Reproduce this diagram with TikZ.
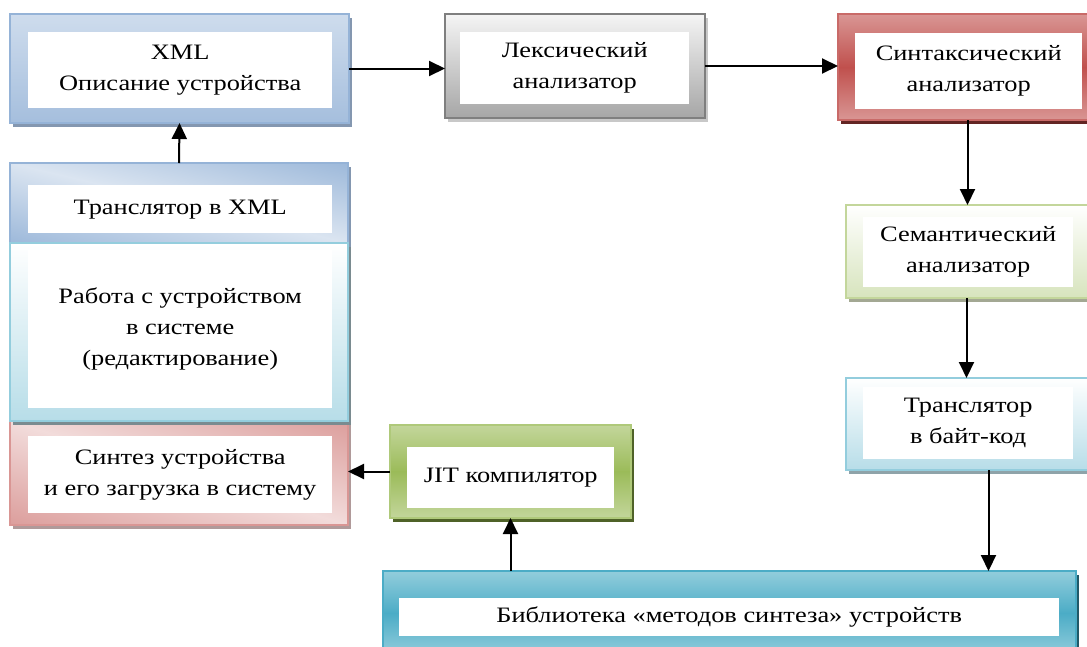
\documentclass[tikz,border=0pt]{standalone}
\usepackage{fontspec}
\setmainfont{Liberation Serif}[FakeStretch=1.2]
\usetikzlibrary{arrows.meta,shadows,calc}

\definecolor{blueD}{HTML}{95B3D7}
\definecolor{blueL}{HTML}{DBE5F1}
\definecolor{blueM}{HTML}{B9CDE5}
\definecolor{blueS}{HTML}{8497B0}
\definecolor{grayD}{HTML}{7F7F7F}
\definecolor{grayM}{HTML}{A6A6A6}
\definecolor{grayS}{HTML}{C8C8C8}
\definecolor{redD}{HTML}{C0504D}
\definecolor{redL}{HTML}{D99694}
\definecolor{redS}{HTML}{632523}
\definecolor{pinkL}{HTML}{F2DCDB}
\definecolor{pinkS}{HTML}{B09A9A}
\definecolor{greenD}{HTML}{9BBB59}
\definecolor{greenL}{HTML}{C3D69B}
\definecolor{greenP}{HTML}{D7E4BD}
\definecolor{greenS}{HTML}{4F6228}
\definecolor{greenG}{HTML}{A3A893}
\definecolor{aquaD}{HTML}{4BACC6}
\definecolor{aquaL}{HTML}{92CDDC}
\definecolor{aquaP}{HTML}{B7DDE8}
\definecolor{aquaS}{HTML}{215968}
\definecolor{aquaB}{HTML}{93CDDD}
\definecolor{aquaG}{HTML}{8FA3A9}

% three-colour vertical frame shading built from two two-colour shadings
% #1 node name, #2 edge colour, #3 middle colour, #4 border colour
\newcommand\triShade[4]{%
  \shade[top color=#2, bottom color=#3] (#1.north west) rectangle ([yshift=-0.3pt]#1.east);
  \shade[top color=#3, bottom color=#2] (#1.west) rectangle (#1.south east);
  \draw[#4, line width=1.2pt] (#1.north west) rectangle (#1.south east);
}
% diagonal frame shading: #1 node, #2 angle, #3 half extent, #4 dark, #5 light
\newcommand\diagShade[5]{%
  \begin{scope}
    \clip (#1.north west) rectangle (#1.south east);
    \begin{scope}[transform canvas={shift={(#1.center)}, rotate=#2}]
      \shade[top color=#4, bottom color=#5] (-420,-0.5) rectangle (420,#3);
      \shade[top color=#5, bottom color=#4] (-420,-#3) rectangle (420,0.5);
    \end{scope}
  \end{scope}
}

\begin{document}
\begin{tikzpicture}[x=1pt,y=1pt,
 frm/.style={draw, line width=1.2pt, anchor=north west, inner sep=0pt, outer sep=0pt},
 sh/.style={drop shadow={shadow xshift=3pt, shadow yshift=-4pt, fill=#1, opacity=1}},
 wht/.style={fill=white, anchor=north west, inner sep=0pt, align=center,
   font=\fontsize{22}{31}\selectfont},
 arr/.style={line width=2pt, -{Triangle[length=16pt,width=15pt]}},
]
\useasboundingbox (0,0) rectangle (1087,-646);

% top row
\node[frm, sh=blueS, draw=blueD, top color=blueM!70!white, bottom color=blueD!85!white,
  minimum width=339pt, minimum height=109pt] (xml) at (10,-14) {};
\node[wht, minimum width=304pt, minimum height=76pt] (xmlt) at (28,-32) {XML\\Описание устройства};

\node[frm, sh=grayS, draw=grayD, top color=white!92!gray, bottom color=grayM,
  minimum width=260pt, minimum height=104pt] (lex) at (445,-14) {};
\node[wht, minimum width=229pt, minimum height=72pt] (lext) at (460,-32) {Лексический\\анализатор};

\node[frm, sh=redS, draw=redD, fill=redL,
  minimum width=257pt, minimum height=106pt] (syn) at (838,-14) {};
\triShade{syn}{redL}{redD}{redD!85!white}
\node[wht, minimum width=227pt, minimum height=76pt] (synt) at (855,-33) {Синтаксический\\анализатор};

% right column
\node[frm, sh=greenG, draw=greenL, top color=white, bottom color=greenP,
  minimum width=249pt, minimum height=93pt] (sem) at (846,-205) {};
\node[wht, minimum width=210pt, minimum height=70pt] (semt) at (863,-217) {Семантический\\анализатор};

\node[frm, sh=aquaG, draw=aquaB, top color=white, bottom color=aquaP,
  minimum width=249pt, minimum height=92pt] (byte) at (846,-378) {};
\node[wht, minimum width=210pt, minimum height=72pt] (bytet) at (863,-387) {Транслятор\\в байт-код};

% library
\node[frm, sh=aquaS, draw=aquaD, fill=aquaL,
  minimum width=693pt, minimum height=84pt] (lib) at (383,-571) {};
\triShade{lib}{aquaL}{aquaD}{aquaD}
\node[wht, minimum width=660pt, minimum height=38pt] (libt) at (399,-598) {Библиотека «методов синтеза» устройств};

% JIT
\node[frm, sh=greenS, draw=greenD, fill=greenL,
  minimum width=241pt, minimum height=93pt] (jit) at (390,-425) {};
\triShade{jit}{greenL}{greenD}{greenD!80!white}
\node[wht, minimum width=207pt, minimum height=61pt] (jitt) at (407,-447) {JIT компилятор};

% left column: synthesis box with diagonal shading
\node[frm, sh=pinkS, draw=redL, fill=redL,
  minimum width=338pt, minimum height=104pt] (sint) at (10,-421) {};
\diagShade{sint}{-17.1}{112}{redL}{pinkL}
\draw[redL, line width=1.2pt] (sint.north west) rectangle (sint.south east);
\node[wht, minimum width=304pt, minimum height=77pt] (sintt) at (28,-436) {Синтез устройства\\и его загрузка в систему};

% translator to XML with diagonal shading
\node[frm, sh=blueS, draw=blueD, fill=blueD,
  minimum width=338pt, minimum height=80pt] (trx) at (10,-163) {};
\diagShade{trx}{-13.3}{88}{blueD}{blueL}
\draw[blueD, line width=1.2pt] (trx.north west) rectangle (trx.south east);
\node[wht, minimum width=304pt, minimum height=48pt] (trxt) at (28,-185) {Транслятор в XML};

\node[frm, sh=aquaG!85!black, draw=aquaB, top color=white, bottom color=aquaP,
  minimum width=338pt, minimum height=178pt] (work) at (10,-243) {};
\node[wht, minimum width=304pt, minimum height=158pt] (workt) at (28,-250) {Работа с устройством\\в системе\\(редактирование)};

% connectors
\draw[arr] (xml.east) -- (xml.east -| lex.west);
\draw[arr] (lex.east) -- (lex.east -| syn.west);
\draw[arr] ([xshift=1pt]syn.south) -- ([xshift=1pt]syn.south |- sem.north);
\draw[arr] ([xshift=-4pt]sem.south) -- ([xshift=-4pt]byte.north);
\draw[arr] ([xshift=18pt]byte.south) -- ([xshift=18pt]byte.south |- lib.north);
\draw[arr] (lib.north -| jit.south) -- (jit.south);
\draw[arr] (jit.west) -- (jit.west -| sint.east);
\draw[arr] (trx.north) -- (xml.south);
\end{tikzpicture}
\end{document}
